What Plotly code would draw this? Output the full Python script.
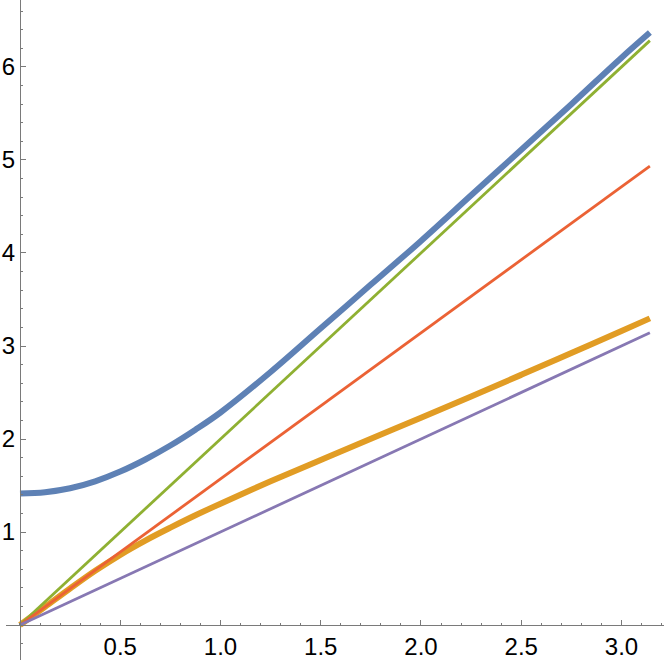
import plotly.graph_objects as go

# values
x_blue = [0, 0.125, 0.25, 0.375, 0.5, 0.625, 0.75, 0.875, 1.0, 1.25, 1.5,
          1.75, 2.0, 2.25, 2.5, 2.75, 3.0, 3.1416]
y_blue = [1.414, 1.428, 1.47, 1.545, 1.65, 1.78, 1.93, 2.10, 2.285, 2.72, 3.19,
          3.66, 4.13, 4.62, 5.11, 5.60, 6.10, 6.37]

x_orange = [0, 0.125, 0.25, 0.375, 0.5, 0.625, 0.75, 0.875, 1.0, 1.25, 1.5,
            1.75, 2.0, 2.25, 2.5, 2.75, 3.0, 3.1416]
y_orange = [0, 0.196, 0.393, 0.583, 0.755, 0.908, 1.047, 1.18, 1.305, 1.545, 1.775,
            2.003, 2.228, 2.457, 2.69, 2.925, 3.16, 3.297]

x_lines = [0, 3.1416]
y_green = [0, 6.2832]
y_red = [0, 4.9348]
y_purple = [0, 3.1416]

x_ticks = [0.5, 1.0, 1.5, 2.0, 2.5, 3.0]
x_ticktext = ["0.5", "1.0", "1.5", "2.0", "2.5", "3.0"]
y_ticks = [1, 2, 3, 4, 5, 6]

X_RANGE = [-0.0698, 3.212]
Y_RANGE = [-0.376, 6.72]
AXIS_COLOR = "#7a7a7a"

fig = go.Figure()
fig.add_trace(go.Scatter(x=x_blue, y=y_blue, mode="lines", line_shape="spline",
                         line=dict(color="#5E81B5", width=6)))
fig.add_trace(go.Scatter(x=x_orange, y=y_orange, mode="lines", line_shape="spline",
                         line=dict(color="#E19C24", width=6)))
fig.add_trace(go.Scatter(x=x_lines, y=y_green, mode="lines",
                         line=dict(color="#8FB032", width=2.8)))
fig.add_trace(go.Scatter(x=x_lines, y=y_red, mode="lines",
                         line=dict(color="#EB6235", width=2.8)))
fig.add_trace(go.Scatter(x=x_lines, y=y_purple, mode="lines",
                         line=dict(color="#8778B3", width=2.8)))

fig.update_layout(
    width=664, height=660,
    margin=dict(l=6, r=0, t=0, b=0),
    plot_bgcolor="white", paper_bgcolor="white",
    showlegend=False,
    font=dict(family="Liberation Sans, Arial, sans-serif", size=24, color="black"),
    xaxis=dict(
        range=X_RANGE, showgrid=False, zeroline=False, automargin=False,
        anchor="free", position=(0 - Y_RANGE[0]) / (Y_RANGE[1] - Y_RANGE[0]),
        showline=True, linecolor=AXIS_COLOR, linewidth=1,
        tickmode="array", tickvals=x_ticks, ticktext=x_ticktext,
        ticks="inside", ticklen=5, tickcolor=AXIS_COLOR,
        minor=dict(dtick=0.1, tick0=0, ticks="inside", ticklen=2.5, tickcolor=AXIS_COLOR),
    ),
    yaxis=dict(
        range=Y_RANGE, showgrid=False, zeroline=False, automargin=False,
        anchor="free", position=(0 - X_RANGE[0]) / (X_RANGE[1] - X_RANGE[0]),
        showline=True, linecolor=AXIS_COLOR, linewidth=1,
        tickmode="array", tickvals=y_ticks,
        ticks="inside", ticklen=5, tickcolor=AXIS_COLOR,
        minor=dict(dtick=0.2, tick0=0, ticks="inside", ticklen=2.5, tickcolor=AXIS_COLOR),
    ),
)

# the page body has a default 8px margin; drop it so the figure sits at the corner
fig.write_html("out.html", config={"displayModeBar": False},
               post_script="document.body.style.margin='0';")
